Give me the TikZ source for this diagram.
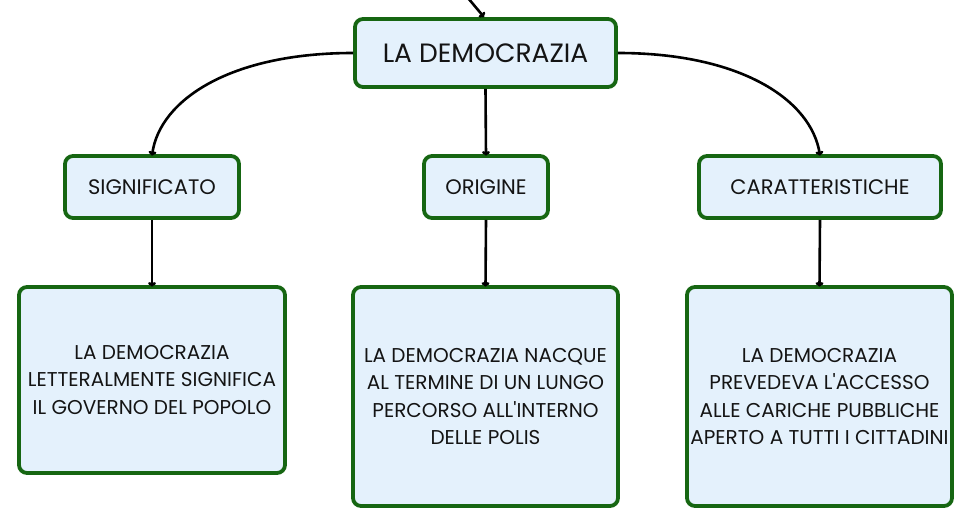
\documentclass[tikz,border=0pt]{standalone}
\usepackage{fontspec}
\setmainfont{Poppins}[Ligatures=TeXOff]
\usetikzlibrary{arrows.meta}
\definecolor{bordergreen}{RGB}{22,102,18}
\definecolor{boxfill}{RGB}{228,241,252}
\definecolor{txt}{RGB}{20,20,20}
\tikzset{
  box/.style={draw=bordergreen, line width=3.8pt, fill=boxfill, rounded corners=8pt, inner sep=0pt, text=txt, align=center},
  conn/.style={draw=black, line width=2.6pt, -{To[length=4.5pt,width=8pt]}},
}
\begin{document}
\begin{tikzpicture}[x=1pt,y=-1pt]
\useasboundingbox (0,0) rectangle (972,526);
\node[box, minimum width=261pt, minimum height=68pt, font=\fontsize{26.5}{30}\selectfont] (main) at (485.5,53) {LA DEMOCRAZIA};
\node[box, minimum width=174pt, minimum height=62pt, font=\fontsize{21}{24}\selectfont] (sig) at (152,187) {SIGNIFICATO};
\node[box, minimum width=124pt, minimum height=62pt, font=\fontsize{21}{24}\selectfont] (ori) at (486,187) {ORIGINE};
\node[box, minimum width=242pt, minimum height=62pt, font=\fontsize{21}{24}\selectfont] (car) at (820,187) {CARATTERISTICHE};
\node[box, minimum width=266pt, minimum height=186pt, font=\fontsize{20}{27.5}\selectfont] (b1) at (152,380) {LA DEMOCRAZIA\\LETTERALMENTE SIGNIFICA\\IL GOVERNO DEL POPOLO};
\node[box, minimum width=265pt, minimum height=219pt, font=\fontsize{20}{27.5}\selectfont] (b2) at (485.5,396.5) {LA DEMOCRAZIA NACQUE\\AL TERMINE DI UN LUNGO\\PERCORSO ALL'INTERNO\\DELLE POLIS};
\node[box, minimum width=265pt, minimum height=219pt, font=\fontsize{20}{27.5}\selectfont] (b3) at (819.5,396.5) {LA DEMOCRAZIA\\PREVEDEVA L'ACCESSO\\ALLE CARICHE PUBBLICHE\\APERTO A TUTTI I CITTADINI};
\coordinate (top) at (468,-2);
\draw[conn] (top) -- ([xshift=-1.5pt]main.north);
\draw[conn] (main.west) .. controls (230,53) and (160,100) .. ([yshift=-1.5pt]sig.north);
\draw[conn] (main.east) .. controls (741,53) and (811,100) .. ([yshift=-1.5pt]car.north);
\draw[conn] (main.south) -- ([yshift=-1.5pt]ori.north);
\draw[conn] (sig.south) -- ([yshift=-1.5pt]b1.north);
\draw[conn] (ori.south) -- ([yshift=-1.5pt]b2.north);
\draw[conn] (car.south) -- ([yshift=-1.5pt]b3.north);
\end{tikzpicture}
\end{document}
